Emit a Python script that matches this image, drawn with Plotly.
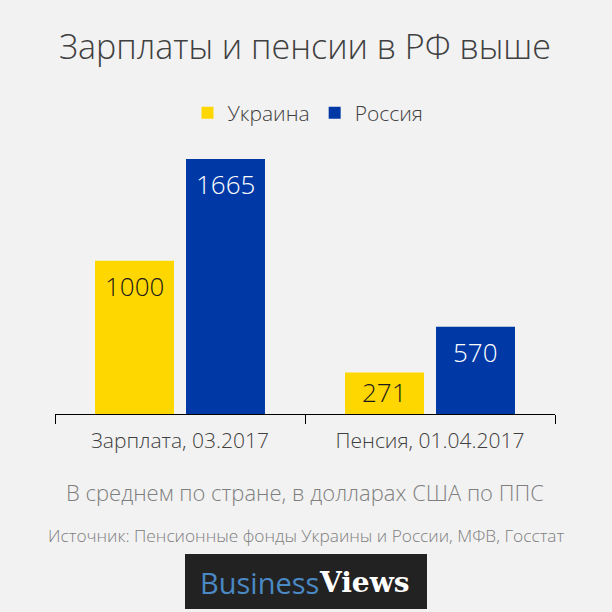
import plotly.graph_objects as go

categories = ["Зарплата, 03.2017", "Пенсия, 01.04.2017"]
ukraine = [1000, 271]
russia = [1665, 570]
series_names = ["Украина", "Россия"]

FONT = "Open Sans"
BG = "#F2F2F2"

# plot area geometry in pixels
T, B, L, R = 159, 198, 55, 57
PH = 612 - T - B
YMAX = 1665

def py(ypix):
    return (612 - B - ypix) / PH

def px(xpix):
    return (xpix - L) / (612 - L - R)

fig = go.Figure()
fig.add_trace(go.Bar(
    x=categories, y=ukraine, name=series_names[0],
    marker=dict(color="#FFD700", line=dict(width=0)),
))
fig.add_trace(go.Bar(
    x=categories, y=russia, name=series_names[1],
    marker=dict(color="#0039A6", line=dict(width=0)),
))

# value labels near the top of each bar
for vals, shift, col in [(ukraine, -45.5, "#1a1a1a"), (russia, 45.5, "#FFFFFF")]:
    for cat, v in zip(categories, vals):
        hpx = v * PH / YMAX
        fig.add_annotation(x=cat, y=v, xref="x", yref="y", text=str(v),
                           xshift=shift, yshift=-min(25, hpx / 2 - 1),
                           showarrow=False, xanchor="center", yanchor="middle",
                           font=dict(family=FONT, size=26, color=col, weight=300))

fig.update_layout(
    width=612, height=612,
    margin=dict(t=T, b=B, l=L, r=R, pad=0),
    paper_bgcolor=BG, plot_bgcolor=BG,
    barmode="group", bargap=0.272, bargroupgap=0.132,
    font=dict(family=FONT, color="#404040"),
    hovermode=False,
    title=dict(text="Зарплаты и пенсии в РФ выше", x=0.5, xref="paper", xanchor="center",
               y=1 - 47 / 612, yanchor="middle", yref="container",
               font=dict(family=FONT, size=34, color="#404040", weight=300)),
    legend=dict(orientation="h", x=px(308), xanchor="center", y=py(113), yanchor="middle",
                font=dict(family=FONT, size=21, color="#404040", weight=300),
                bgcolor="rgba(0,0,0,0)", itemclick=False, traceorder="normal"),
    xaxis=dict(showline=True, linecolor="#000000", linewidth=1.3,
               ticks="outside", tickson="boundaries", ticklen=9, tickcolor="#000000",
               tickwidth=1.3, ticklabelstandoff=8,
               tickfont=dict(family=FONT, size=21, color="#404040", weight=300),
               showgrid=False, zeroline=False, fixedrange=True),
    yaxis=dict(range=[0, YMAX], visible=False, showgrid=False, zeroline=False,
               fixedrange=True),
)

fig.add_annotation(text="В среднем по стране, в долларах США по ППС",
                   xref="paper", yref="paper", x=px(305), y=py(492),
                   xanchor="center", yanchor="middle", showarrow=False,
                   font=dict(family=FONT, size=22, color="#7F7F7F", weight=300))
fig.add_annotation(text="Источник: Пенсионные фонды Украины и России, МФВ, Госстат",
                   xref="paper", yref="paper", x=px(306), y=py(535),
                   xanchor="center", yanchor="middle", showarrow=False,
                   font=dict(family=FONT, size=17.3, color="#808080", weight=300))

# logo
fig.add_shape(type="rect", xref="paper", yref="paper",
              x0=px(185), x1=px(427), y0=py(609), y1=py(554),
              fillcolor="#222222", line=dict(width=0), layer="above")
fig.add_annotation(text="Business", xref="paper", yref="paper", x=px(321), y=py(582),
                   xanchor="right", yanchor="middle", showarrow=False,
                   font=dict(family="Open Sans", size=29, color="#4A89C4"))
fig.add_annotation(text="<b>Views</b>", xref="paper", yref="paper", x=px(317), y=py(582),
                   xanchor="left", yanchor="middle", showarrow=False,
                   font=dict(family="DejaVu Serif", size=28, color="#FFFFFF"))

fig.write_html("out.html", config={"displayModeBar": False},
               post_script="document.body.style.margin='0px';")
